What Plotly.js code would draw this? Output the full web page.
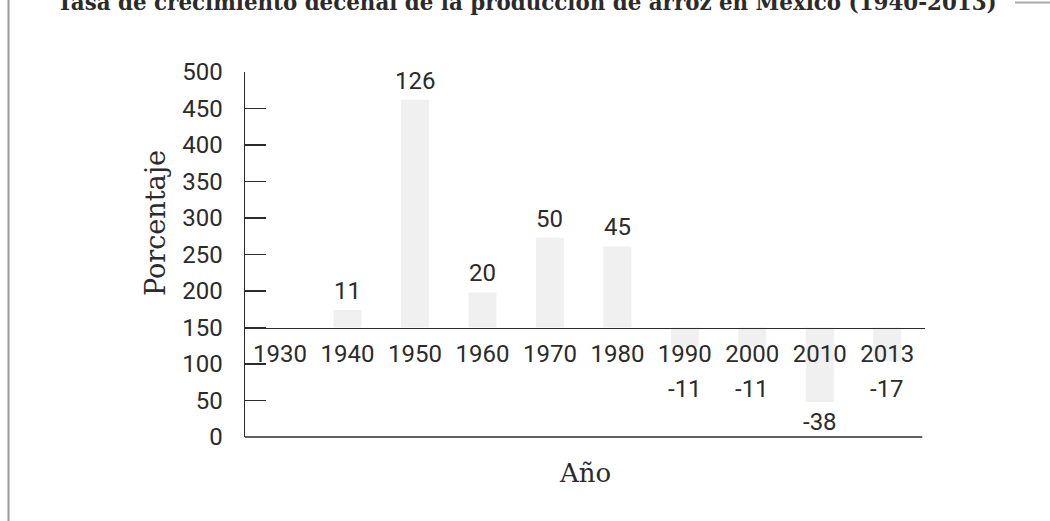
<!DOCTYPE html>
<html>
<head>
<meta charset="utf-8">
<script src="https://cdn.plot.ly/plotly-3.0.1.min.js"></script>
<style>html,body{margin:0;padding:0;background:#fff;}#chart{width:1050px;height:521px;}</style>
</head>
<body>
<div id="chart"></div>
<script>
// ---- data ----
const years = ['1930', '1940', '1950', '1960', '1970', '1980', '1990', '2000', '2010', '2013'];
const barBase = 150;
const barEnd = [null, 174, 462, 198, 273, 261, 123, 123, 48, 104];
const growthLabels = ['', '11', '126', '20', '50', '45', '-11', '-11', '-38', '-17'];
const yTicks = [0, 50, 100, 150, 200, 250, 300, 350, 400, 450, 500];

const titleText = 'Tasa de crecimiento decenal de la producción de arroz en México (1940-2013)';
const yTitle = 'Porcentaje';
const xTitle = 'Año';

// ---- style ----
const ink = '#2b2b2b';
const sans = 'Roboto, "Liberation Sans", sans-serif';
const serif = '"DejaVu Serif", "Liberation Serif", serif';
const negLabelFloor = 93;

const heights = barEnd.map(v => v === null ? null : v - barBase);

const trace = {
  type: 'bar',
  x: years,
  y: heights,
  base: barBase,
  width: 0.415,
  marker: {color: '#f0f0f0', line: {width: 0}},
  hoverinfo: 'skip',
  showlegend: false
};

const annotations = [];
years.forEach((yr, i) => {
  if (barEnd[i] === null || !growthLabels[i]) return;
  const pos = barEnd[i] >= barBase;
  annotations.push({
    x: i, xref: 'x', yref: 'y',
    y: pos ? barEnd[i] : Math.min(barEnd[i], negLabelFloor),
    yanchor: pos ? 'bottom' : 'top',
    yshift: pos ? 3 : -4,
    text: growthLabels[i], showarrow: false,
    font: {family: sans, size: 24, color: ink}
  });
});
annotations.push({
  text: yTitle, textangle: -90, showarrow: false,
  xref: 'paper', yref: 'paper', x: -0.1316, y: 0.585,
  xanchor: 'center', yanchor: 'middle',
  font: {family: serif, size: 27, color: ink}
});
annotations.push({
  text: xTitle, showarrow: false,
  xref: 'paper', yref: 'paper', x: 0.5, y: -0.0986,
  xanchor: 'center', yanchor: 'middle',
  font: {family: serif, size: 26, color: ink}
});

const layout = {
  width: 1050, height: 521,
  margin: {l: 245, r: 125, t: 72, b: 84, pad: 0},
  paper_bgcolor: '#fff', plot_bgcolor: '#fff',
  title: {
    text: titleText,
    xref: 'container', yref: 'container', x: 57 / 1050, xanchor: 'left',
    y: 0.996, yanchor: 'middle',
    font: {family: serif, size: 21.4, color: ink, weight: 'bold'}
  },
  xaxis: {
    type: 'category',
    categoryorder: 'array', categoryarray: years,
    range: [-0.52, 9.56],
    anchor: 'free', position: barBase / 500,
    showline: true, linecolor: ink, linewidth: 1.5,
    ticks: '', showgrid: false, zeroline: false,
    ticklabelstandoff: 4,
    tickfont: {family: sans, size: 24, color: ink},
    fixedrange: true
  },
  yaxis: {
    range: [0, 500],
    tickvals: yTicks,
    ticks: 'inside', ticklen: 21, tickwidth: 1.5, tickcolor: ink,
    showline: true, linecolor: ink, linewidth: 1.5,
    showgrid: false, zeroline: false,
    ticklabelstandoff: 16,
    tickfont: {family: sans, size: 24, color: ink},
    fixedrange: true
  },
  shapes: [
    {type: 'line', xref: 'paper', yref: 'paper', x0: 0, x1: 0.996, y0: 0, y1: 0,
     line: {color: ink, width: 1.5}},
    {type: 'line', xref: 'paper', yref: 'paper', x0: -0.3478, x1: -0.3478, y0: -0.3, y1: 1.3,
     line: {color: '#999', width: 2}},
    {type: 'line', xref: 'paper', yref: 'paper', x0: 1.1324, x1: 1.2, y0: 1.1904, y1: 1.1904,
     line: {color: '#aaa', width: 2}}
  ],
  annotations: annotations,
  bargap: 0.5
};

Plotly.newPlot('chart', [trace], layout, {displayModeBar: false, staticPlot: true});
</script>
</body>
</html>
